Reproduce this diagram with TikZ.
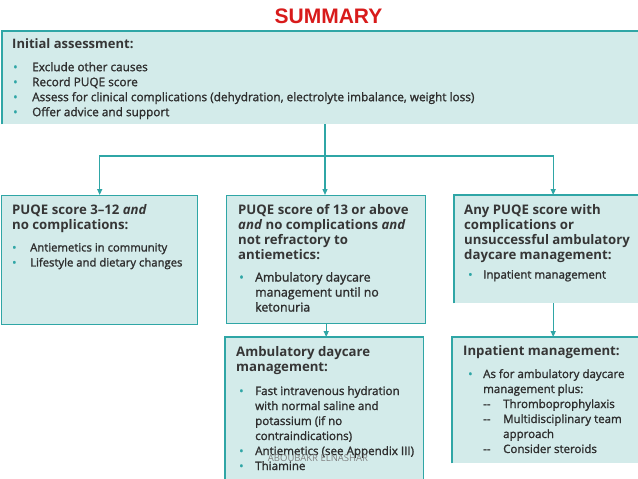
\documentclass[tikz,border=0pt]{standalone}
\usepackage{fontspec}
\setmainfont{Open Sans}
\newfontfamily\bodyfont{Open Sans}[FakeBold=1.5]
\newfontfamily\titlefont{Liberation Sans}
\usetikzlibrary{arrows.meta,positioning}
\definecolor{tealln}{HTML}{2FA6A6}
\definecolor{tealbg}{HTML}{D3EBEA}
\definecolor{txtgray}{HTML}{363636}
\definecolor{bodygray}{HTML}{2E2E2E}
\definecolor{titlered}{HTML}{D81B1B}
\newcommand{\bul}[1][16pt]{\makebox[#1][l]{\textcolor{tealln}{\textbullet}}}
\newcommand{\dsh}{\makebox[20pt][l]{--}}

\begin{document}
\begin{tikzpicture}[x=1pt,y=-1pt,
  box/.style={fill=tealbg,draw=tealln,line width=1.4pt,inner sep=0pt,anchor=north west},
  openbox/.style={fill=tealbg,inner sep=0pt,anchor=north west},
  edge/.style={draw=tealln,line width=1.4pt},
  hd/.style={anchor=north west,inner sep=0pt,align=left,text=txtgray,font=\bfseries\fontsize{13.2}{15}\selectfont},
  lst/.style={anchor=north west,inner sep=0pt,align=left,text=bodygray,font=\bodyfont\fontsize{11.3}{15}\selectfont},
  wire/.style={draw=tealln,line width=1.3pt},
  >={Triangle[width=5pt,length=6pt]}]
\useasboundingbox (0,0) rectangle (638,479);
\clip (0,0) rectangle (638,479);

\node[font=\titlefont\bfseries\fontsize{21}{21}\selectfont,text=titlered] (title) at (328.5,16) {SUMMARY};

% boxes
\node[openbox,minimum width=645,minimum height=93] (init) at (2,31) {};
\draw[edge] (init.south west) -- (init.north west) -- (init.north east);
\node[box,minimum width=196,minimum height=129] (low) at (1,195) {};
\node[box,minimum width=199,minimum height=128] (high) at (226,195) {};
\node[openbox,minimum width=198,minimum height=108] (any) at (454,195) {};
\draw[edge] (any.south west) -- (any.north west) -- (any.north east);
\node[openbox,minimum width=198,minimum height=150] (amb) at (225,337) {};
\draw[edge] (amb.south west) -- (amb.north west) -- (amb.north east) -- (amb.south east);
\node[openbox,minimum width=200,minimum height=126] (inp) at (452,337) {};
\draw[edge] (inp.south west) -- (inp.north west) -- (inp.north east);

% texts
\node[hd,font=\bfseries\fontsize{13}{15}\selectfont] (initH) at (12,38) {Initial assessment:};
\node[lst,font=\bodyfont\fontsize{11.8}{15}\selectfont] (initL) at (13,62) {\bul[19pt]Exclude other causes\\
  \bul[19pt]Record PUQE score\\
  \bul[19pt]Assess for clinical complications (dehydration, electrolyte imbalance, weight loss)\\
  \bul[19pt]Offer advice and support};

\node[hd] (lowH) at (12,204) {PUQE score 3--12 \textit{and}\\no complications:};
\node[lst] (lowL) at (12,243) {\bul[18pt]Antiemetics in community\\
  \bul[18pt]Lifestyle and dietary changes};

\node[hd] (highH) at (238,204) {PUQE score of 13 or above\\\textit{and} no complications \textit{and}\\not refractory to\\antiemetics:};
\node[lst,font=\bodyfont\fontsize{12.3}{15}\selectfont] (highL) at (239,272) {\bul Ambulatory daycare\\
  \hspace*{16pt}management until no\\
  \hspace*{16pt}ketonuria};

\node[hd] (anyH) at (464,204) {Any PUQE score with\\complications or\\unsuccessful ambulatory\\daycare management:};
\node[lst,font=\bodyfont\fontsize{11.5}{15}\selectfont] (anyL) at (468,270) {\bul[15pt]Inpatient management};

\node[hd] (ambH) at (236,346) {Ambulatory daycare\\management:};
\node[lst,font=\bodyfont\fontsize{11.6}{15}\selectfont] (ambL) at (239,386) {\bul Fast intravenous hydration\\
  \hspace*{16pt}with normal saline and\\
  \hspace*{16pt}potassium (if no\\
  \hspace*{16pt}contraindications)\\
  \bul Antiemetics (see Appendix III)\\
  \bul Thiamine};

\node[hd] (inpH) at (463,345) {Inpatient management:};
\node[lst,font=\bodyfont\fontsize{11.5}{15}\selectfont] (inpL) at (468,369) {\bul[15pt]As for ambulatory daycare\\
  \hspace*{15pt}management plus:\\
  \hspace*{15pt}\dsh Thromboprophylaxis\\
  \hspace*{15pt}\dsh Multidisciplinary team\\
  \hspace*{35pt}approach\\
  \hspace*{15pt}\dsh Consider steroids};

\node[font=\fontsize{9.5}{10}\selectfont,text=gray] (mark) at (318,458) {ABOUBAKR ELNASHAR};

% connectors
\coordinate (hub) at (325,156);
\draw[wire] (hub |- init.south) -- (hub);
\draw[wire,->] (hub) -| (low.north);
\draw[wire,->] (hub) -- (hub |- high.north);
\draw[wire,->] (hub) -| (any.north);
\draw[wire,->] (high.south) -- (high.south |- amb.north);
\draw[wire,->] (any.south) -- (any.south |- inp.north);
\end{tikzpicture}
\end{document}
